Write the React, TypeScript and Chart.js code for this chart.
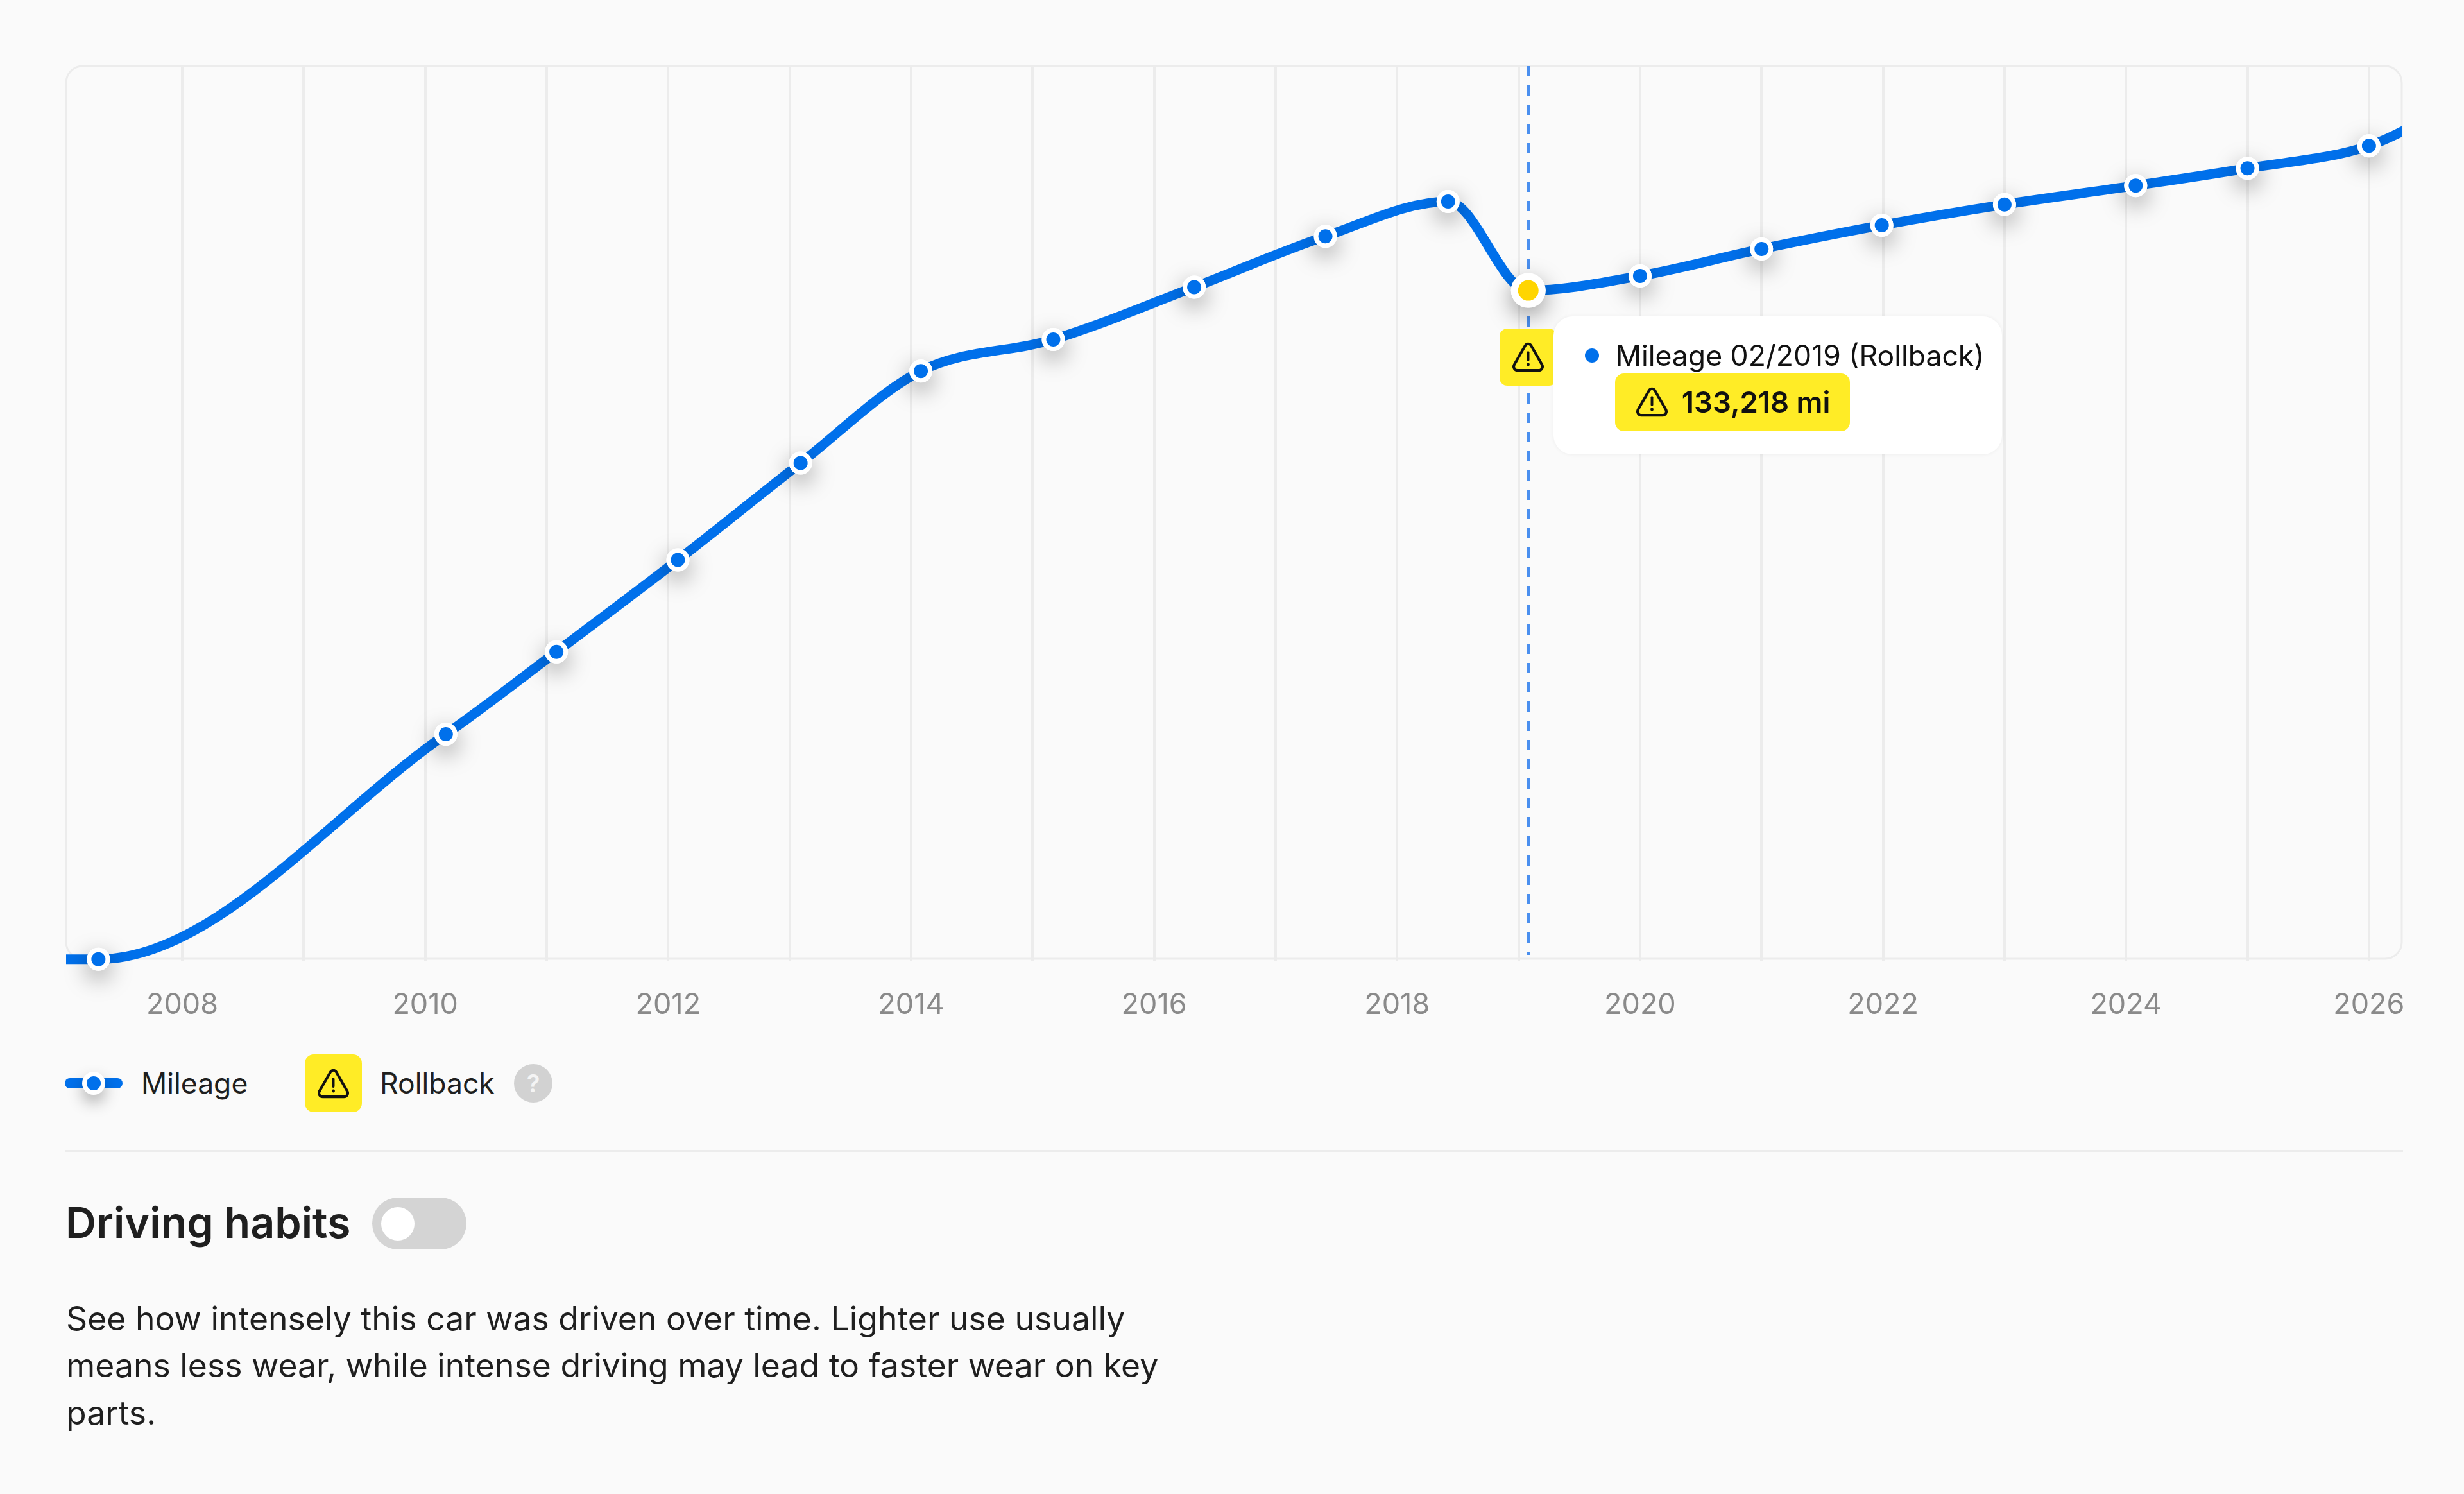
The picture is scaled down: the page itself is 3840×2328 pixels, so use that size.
import React, { useEffect, useRef, useState } from "react";
import { Chart, registerables } from "chart.js";

Chart.register(...registerables);

// Recorded mileage readings
const markerYears = [2007.31, 2010.17, 2011.08, 2012.08, 2013.09, 2014.08, 2015.17, 2016.33, 2017.41, 2018.42, 2020.0, 2021.0, 2021.99, 2023.0, 2024.08, 2025.0, 2026.0];
const markerMiles = [0, 44823, 61221, 79536, 98835, 117163, 123464, 133881, 144003, 150944, 136118, 141486, 146215, 150343, 154113, 157551, 162024];
// Rollback reading
const rollbackYear = 2019.08;
const rollbackMiles = 133218;
// Line continuation outside the visible range
const leadYear = 2006;
const leadMiles = 0;
const trailYear = 2026.6;
const trailMiles = 169000;

const gridYears = [2008, 2009, 2010, 2011, 2012, 2013, 2014, 2015, 2016, 2017, 2018, 2019, 2020, 2021, 2022, 2023, 2024, 2025, 2026];
const tickLabelYears = [2008, 2010, 2012, 2014, 2016, 2018, 2020, 2022, 2024, 2026];

const FONT = "Inter, sans-serif";
const BLUE = "#0070eb";
const YELLOW = "#ffec26";

const chartFrame = {
  id: "chartFrame",
  beforeDatasetsDraw(chart: any) {
    const { ctx, chartArea: a, scales } = chart;
    ctx.save();
    ctx.strokeStyle = "#ececec";
    ctx.lineWidth = 3;
    ctx.beginPath();
    ctx.roundRect(a.left, a.top, a.right - a.left, a.bottom - a.top, 26);
    ctx.stroke();
    const x = scales.x.getPixelForValue(rollbackYear);
    ctx.strokeStyle = "#4a8fef";
    ctx.lineWidth = 5;
    ctx.setLineDash([16, 14]);
    ctx.beginPath();
    ctx.moveTo(x, a.top);
    ctx.lineTo(x, a.bottom - 6);
    ctx.stroke();
    ctx.restore();
  },
  beforeDatasetDraw(chart: any, args: any) {
    if (chart.data.datasets[args.index].castShadow) {
      const { ctx } = chart;
      ctx.save();
      ctx.shadowColor = "rgba(0,0,0,0.4)";
      ctx.shadowBlur = 36;
      ctx.shadowOffsetY = 12;
    }
  },
  afterDatasetDraw(chart: any, args: any) {
    if (chart.data.datasets[args.index].castShadow) chart.ctx.restore();
  },
};

function Warn({ size = 59 }: { size?: number }) {
  return (
    <svg width={size} height={size} viewBox="0 0 24 24" fill="none" style={{ display: "block" }}>
      <path
        d="M10.2 4.6 L3.2 16.8 C2.3 18.4 3.4 20.4 5.3 20.4 H18.7 C20.6 20.4 21.7 18.4 20.8 16.8 L13.8 4.6 C13 3.2 11 3.2 10.2 4.6 Z"
        stroke="#111"
        strokeWidth="1.7"
        strokeLinejoin="round"
      />
      <path d="M12 9 V13.8" stroke="#111" strokeWidth="1.6" strokeLinecap="round" />
      <circle cx="12" cy="16.7" r="1" fill="#111" />
    </svg>
  );
}

const abs = (left: number, top: number, extra: React.CSSProperties = {}): React.CSSProperties => ({
  position: "absolute",
  left,
  top,
  ...extra,
});

function label(left: number, centerY: number, size: number, extra: React.CSSProperties = {}): React.CSSProperties {
  return abs(left, centerY - size, {
    height: size * 2,
    lineHeight: `${size * 2}px`,
    fontSize: size,
    whiteSpace: "nowrap",
    ...extra,
  });
}

export default function App() {
  const ref = useRef<HTMLCanvasElement>(null);
  const [anchor, setAnchor] = useState<{ x: number; y: number } | null>(null);

  useEffect(() => {
    document.body.style.margin = "0";
    document.body.style.background = "#fafafa";
    const markers = markerYears.map((x, i) => ({ x, y: markerMiles[i] }));
    const rollback = { x: rollbackYear, y: rollbackMiles };
    const linePoints = [{ x: leadYear, y: leadMiles }, ...markers, rollback, { x: trailYear, y: trailMiles }].sort((a, b) => a.x - b.x);

    const chart = new Chart(ref.current as HTMLCanvasElement, {
      type: "line",
      data: {
        datasets: [
          {
            label: "Rollback",
            data: [rollback],
            showLine: false,
            order: 0,
            clip: false,
            pointRadius: 21.5,
            pointBorderWidth: 11,
            pointBackgroundColor: "#ffd500",
            pointBorderColor: "#ffffff",
          },
          {
            label: "Rollback halo",
            data: [rollback],
            showLine: false,
            order: 1,
            clip: false,
            castShadow: true,
            pointRadius: 27,
            pointBorderWidth: 0,
            pointBackgroundColor: "#ffffff",
          },
          {
            label: "Mileage readings",
            data: markers,
            showLine: false,
            order: 2,
            clip: false,
            pointRadius: 14.5,
            pointBorderWidth: 7,
            pointBackgroundColor: BLUE,
            pointBorderColor: "#ffffff",
          },
          {
            label: "Mileage halo",
            data: markers,
            showLine: false,
            order: 3,
            clip: false,
            castShadow: true,
            pointRadius: 18,
            pointBorderWidth: 0,
            pointBackgroundColor: "#ffffff",
          },
          {
            label: "Mileage",
            data: linePoints,
            order: 4,
            borderColor: BLUE,
            borderWidth: 15,
            cubicInterpolationMode: "monotone",
            pointRadius: 0,
            clip: { left: 0, right: 0, top: 0, bottom: 20 },
          },
        ] as any,
      },
      options: {
        responsive: false,
        animation: false,
        devicePixelRatio: 1,
        events: [],
        layout: { padding: { left: 103, right: 97, top: 103, bottom: 0 } },
        plugins: { legend: { display: false }, tooltip: { enabled: false } },
        scales: {
          x: {
            type: "linear",
            min: 2007.044,
            max: 2026.27,
            afterBuildTicks: (s: any) => {
              s.ticks = gridYears.map((value) => ({ value }));
            },
            afterFit: (s: any) => {
              s.height = 146;
            },
            grid: { color: "#ececec", lineWidth: 4, tickLength: 3, tickColor: "#ececec" },
            border: { display: false },
            ticks: {
              autoSkip: false,
              maxRotation: 0,
              padding: 42,
              color: "#8a8a8a",
              font: { family: FONT, size: 45 },
              callback: (v: any) => (tickLabelYears.includes(v) ? String(v) : ""),
            },
          },
          y: { display: false, min: 90, max: 177910 },
        },
      },
      plugins: [chartFrame],
    } as any);
    setAnchor({
      x: chart.scales.x.getPixelForValue(rollbackYear),
      y: chart.scales.y.getPixelForValue(rollbackMiles),
    });
    return () => chart.destroy();
  }, []);

  return (
    <div style={{ position: "absolute", left: 0, top: 0, width: 3840, height: 2328, background: "#fafafa", overflow: "hidden", fontFamily: FONT, color: "#1f1f1f" }}>
      <canvas ref={ref} width={3840} height={1640} style={{ position: "absolute", left: 0, top: 0, width: 3840, height: 1640 }} />

      {anchor && (
        <>
          <div style={abs(anchor.x - 44.5, anchor.y + 59, { width: 89, height: 89, background: YELLOW, borderRadius: 12, display: "flex", alignItems: "center", justifyContent: "center" })}>
            <Warn />
          </div>
          <div style={abs(anchor.x + 39, anchor.y + 40, { width: 699, height: 215, background: "#fff", borderRadius: 30, boxShadow: "0 0 6px rgba(0,0,0,0.06)" })}>
            <div style={abs(49, 50, { width: 22, height: 22, borderRadius: "50%", background: BLUE })} />
            <div style={label(97, 61.5, 44.5, { color: "#111" })}>Mileage 02/2019 (Rollback)</div>
            <div style={abs(96, 89, { width: 366, height: 90, background: YELLOW, borderRadius: 14 })}>
              <div style={abs(28, 15)}><Warn /></div>
              <div style={label(104, 45, 45.5, { color: "#111", fontWeight: 600 })}>133,218 mi</div>
            </div>
          </div>
        </>
      )}

      <div style={abs(101, 1680, { width: 90, height: 16, background: BLUE, borderRadius: 8 })} />
      <div style={abs(127.5, 1669.5, { width: 22, height: 22, background: BLUE, border: "7px solid #fff", borderRadius: "50%", boxShadow: "0 12px 24px rgba(0,0,0,0.3)" })} />
      <div style={label(220, 1688, 44.5)}>Mileage</div>
      <div style={abs(475, 1643, { width: 89, height: 90, background: YELLOW, borderRadius: 14, display: "flex", alignItems: "center", justifyContent: "center" })}>
        <Warn />
      </div>
      <div style={label(592, 1688, 44.5)}>Rollback</div>
      <div style={abs(801, 1658, { width: 60, height: 60, borderRadius: "50%", background: "#d2d2d2", color: "#f4f4f4", fontSize: 38, fontWeight: 600, lineHeight: "60px", textAlign: "center" })}>?</div>

      <div style={abs(102, 1792, { width: 3643, height: 3, background: "#ececec" })} />

      <div style={label(102, 1905, 66.4, { fontWeight: 600, color: "#1f1f1f" })}>Driving habits</div>
      <div style={abs(580, 1866, { width: 147, height: 81, borderRadius: 41, background: "#d4d4d4" })} />
      <div style={abs(594, 1881, { width: 52, height: 52, borderRadius: "50%", background: "#fff" })} />

      <div style={label(103, 2055, 51.7)}>See how intensely this car was driven over time. Lighter use usually</div>
      <div style={label(103, 2128, 51.7)}>means less wear, while intense driving may lead to faster wear on key</div>
      <div style={label(103, 2202, 51.7)}>parts.</div>
    </div>
  );
}
